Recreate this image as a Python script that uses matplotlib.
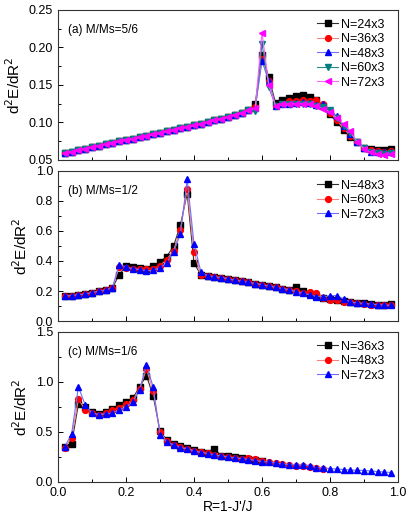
import numpy as np
import matplotlib
matplotlib.use('Agg')
import matplotlib.pyplot as plt
from matplotlib.ticker import MultipleLocator

plt.rcParams['font.family'] = ['Liberation Sans', 'DejaVu Sans']

R = [round(0.02 * i, 2) for i in range(1, 50)]

# panel (a): M/Ms=5/6, common low-R part then per-size tail (R >= 0.58)
a_base = [0.059, 0.061, 0.063, 0.065, 0.067, 0.069, 0.071, 0.073, 0.075, 0.077,
          0.078, 0.080, 0.082, 0.084, 0.086, 0.088, 0.090, 0.092, 0.094, 0.096,
          0.098, 0.100, 0.103, 0.105, 0.107, 0.110, 0.113, 0.116]
a_24 = [0.125, 0.190, 0.160, 0.126, 0.130, 0.133, 0.135, 0.136, 0.134, 0.130, 0.122,
        0.111, 0.100, 0.090, 0.080, 0.074, 0.066, 0.065, 0.063, 0.063, 0.065]
a_36 = [0.120, 0.185, 0.155, 0.122, 0.125, 0.128, 0.129, 0.130, 0.129, 0.130, 0.124,
        0.113, 0.103, 0.092, 0.082, 0.074, 0.066, 0.063, 0.062, 0.061, 0.062]
a_48 = [0.119, 0.182, 0.155, 0.122, 0.124, 0.125, 0.126, 0.127, 0.126, 0.123, 0.124,
        0.117, 0.108, 0.095, 0.085, 0.074, 0.066, 0.061, 0.060, 0.060, 0.060]
a_60 = [0.115, 0.205, 0.147, 0.122, 0.124, 0.125, 0.125, 0.125, 0.125, 0.122, 0.120,
        0.116, 0.106, 0.095, 0.086, 0.074, 0.066, 0.060, 0.059, 0.058, 0.059]
a_72 = [0.119, 0.220, 0.150, 0.122, 0.124, 0.125, 0.125, 0.125, 0.124, 0.122, 0.118,
        0.114, 0.106, 0.098, 0.088, 0.074, 0.065, 0.060, 0.058, 0.057, 0.058]

# panel (b): M/Ms=1/2
b_48 = [0.165, 0.170, 0.175, 0.180, 0.190, 0.197, 0.205, 0.220, 0.310, 0.365,
        0.360, 0.355, 0.350, 0.365, 0.395, 0.430, 0.500, 0.640, 0.850, 0.385,
        0.310, 0.300, 0.295, 0.290, 0.282, 0.272, 0.265, 0.257, 0.250, 0.242,
        0.233, 0.225, 0.215, 0.210, 0.229, 0.200, 0.180, 0.165, 0.155, 0.145,
        0.140, 0.135, 0.128, 0.120, 0.118, 0.112, 0.110, 0.105, 0.115]
b_60 = [0.165, 0.170, 0.175, 0.180, 0.190, 0.197, 0.205, 0.220, 0.360, 0.355,
        0.350, 0.350, 0.345, 0.350, 0.370, 0.410, 0.470, 0.610, 0.880, 0.460,
        0.305, 0.300, 0.295, 0.290, 0.282, 0.272, 0.265, 0.257, 0.250, 0.242,
        0.233, 0.225, 0.215, 0.210, 0.200, 0.190, 0.195, 0.189, 0.155, 0.140,
        0.138, 0.130, 0.125, 0.120, 0.115, 0.110, 0.108, 0.105, 0.105]
b_72 = [0.165, 0.170, 0.175, 0.180, 0.190, 0.197, 0.205, 0.222, 0.376, 0.360,
        0.348, 0.343, 0.335, 0.338, 0.355, 0.390, 0.460, 0.580, 0.945, 0.515,
        0.330, 0.300, 0.295, 0.290, 0.282, 0.272, 0.265, 0.257, 0.250, 0.242,
        0.233, 0.225, 0.215, 0.210, 0.195, 0.185, 0.175, 0.162, 0.162, 0.168,
        0.170, 0.145, 0.128, 0.120, 0.118, 0.112, 0.110, 0.105, 0.105]

# panel (c): M/Ms=1/6 (smaller systems cover fewer R values)
c_36 = [0.355, 0.380, 0.780, 0.753, 0.700, 0.680, 0.700, 0.730, 0.770, 0.800,
        0.840, 0.950, 1.065, 0.860, 0.510, 0.420, 0.385, 0.360, 0.340, 0.320,
        0.305, 0.295, 0.330, 0.265, 0.260, 0.255, 0.240, 0.230, 0.225, 0.210]
c_48 = [0.340, 0.445, 0.830, 0.720, 0.690, 0.670, 0.690, 0.720, 0.740, 0.780,
        0.820, 0.930, 1.130, 0.910, 0.500, 0.410, 0.370, 0.350, 0.335, 0.315,
        0.300, 0.290, 0.275, 0.260, 0.250, 0.245, 0.235, 0.240, 0.230, 0.210,
        0.200, 0.190, 0.180, 0.170, 0.165, 0.160, 0.155, 0.140, 0.135]
c_72 = [0.355, 0.480, 0.952, 0.770, 0.690, 0.675, 0.680, 0.690, 0.720, 0.750,
        0.800, 0.920, 1.170, 0.950, 0.470, 0.400, 0.370, 0.345, 0.330, 0.310,
        0.295, 0.285, 0.270, 0.260, 0.250, 0.240, 0.235, 0.225, 0.215, 0.205,
        0.200, 0.190, 0.180, 0.175, 0.170, 0.170, 0.165, 0.145, 0.140, 0.135,
        0.130, 0.125, 0.120, 0.118, 0.115, 0.110, 0.105, 0.100, 0.095]

black = dict(marker='s', mfc='black', mec='black', color='#303030')
red = dict(marker='o', mfc='red', mec='red', color='#ff8080')
blue = dict(marker='^', mfc='blue', mec='blue', color='#7070ff')
teal = dict(marker='v', mfc='#008080', mec='#008080', color='#2a8a8a')
magenta = dict(marker='<', mfc='magenta', mec='magenta', color='#ff60ff')

fig = plt.figure(figsize=(4.15, 5.19), dpi=100)
left, width = 58 / 415, 340 / 415
tops = [10, 171, 332]
axes = [fig.add_axes([left, 1 - (t + 150) / 519, width, 150 / 519]) for t in tops]

ms = 4.2
lw = 0.8

ax = axes[0]
panel_a = [('N=24x3', a_base + a_24, black),
           ('N=36x3', a_base + a_36, red),
           ('N=48x3', a_base + a_48, blue),
           ('N=60x3', a_base + a_60, teal),
           ('N=72x3', a_base + a_72, magenta)]
for lab, vals, st in panel_a:
    ax.plot(R[:len(vals)], vals, label=lab, ms=ms, lw=lw, **st)
ax.set_ylim(0.05, 0.25)
ax.yaxis.set_major_locator(MultipleLocator(0.05))
ax.yaxis.set_minor_locator(MultipleLocator(0.025))
ax.yaxis.set_major_formatter(plt.FormatStrFormatter('%.2f'))
ax.text(0.03, 0.845, '(a) M/Ms=5/6', transform=ax.transAxes, fontsize=8.5)

ax = axes[1]
panel_b = [('N=48x3', b_48, black), ('N=60x3', b_60, red), ('N=72x3', b_72, blue)]
for lab, vals, st in panel_b:
    ax.plot(R[:len(vals)], vals, label=lab, ms=ms, lw=lw, **st)
ax.set_ylim(0.0, 1.0)
ax.yaxis.set_major_locator(MultipleLocator(0.2))
ax.yaxis.set_minor_locator(MultipleLocator(0.1))
ax.yaxis.set_major_formatter(plt.FormatStrFormatter('%.1f'))
ax.text(0.03, 0.845, '(b) M/Ms=1/2', transform=ax.transAxes, fontsize=8.5)

ax = axes[2]
panel_c = [('N=36x3', c_36, black), ('N=48x3', c_48, red), ('N=72x3', c_72, blue)]
for lab, vals, st in panel_c:
    ax.plot(R[:len(vals)], vals, label=lab, ms=ms, lw=lw, **st)
ax.set_ylim(0.0, 1.5)
ax.yaxis.set_major_locator(MultipleLocator(0.5))
ax.yaxis.set_minor_locator(MultipleLocator(0.25))
ax.yaxis.set_major_formatter(plt.FormatStrFormatter('%.1f'))
ax.text(0.03, 0.845, '(c) M/Ms=1/6', transform=ax.transAxes, fontsize=8.5)
ax.set_xlabel("R=1-J'/J", fontsize=10, labelpad=1)

for i, ax in enumerate(axes):
    ax.set_xlim(0.0, 1.0)
    ax.xaxis.set_major_locator(MultipleLocator(0.2))
    ax.xaxis.set_minor_locator(MultipleLocator(0.1))
    ax.xaxis.set_major_formatter(plt.FormatStrFormatter('%.1f'))
    ax.tick_params(which='both', direction='in', labelsize=9, width=0.7,
                   top=False, right=False)
    ax.tick_params(which='major', length=3.5)
    ax.tick_params(which='minor', length=2)
    if i < 2:
        ax.tick_params(labelbottom=False)
    for sp in ax.spines.values():
        sp.set_linewidth(0.8)
        sp.set_color('#333333')
    ax.set_ylabel('d$^2$E/dR$^2$', fontsize=11, labelpad=4)
    ax.legend(loc='upper right', frameon=False, fontsize=9, handlelength=1.7,
              handletextpad=0.2, labelspacing=0.2, borderaxespad=0.3,
              bbox_to_anchor=(0.985, 1.0))

fig.savefig('out.png', dpi=100)
